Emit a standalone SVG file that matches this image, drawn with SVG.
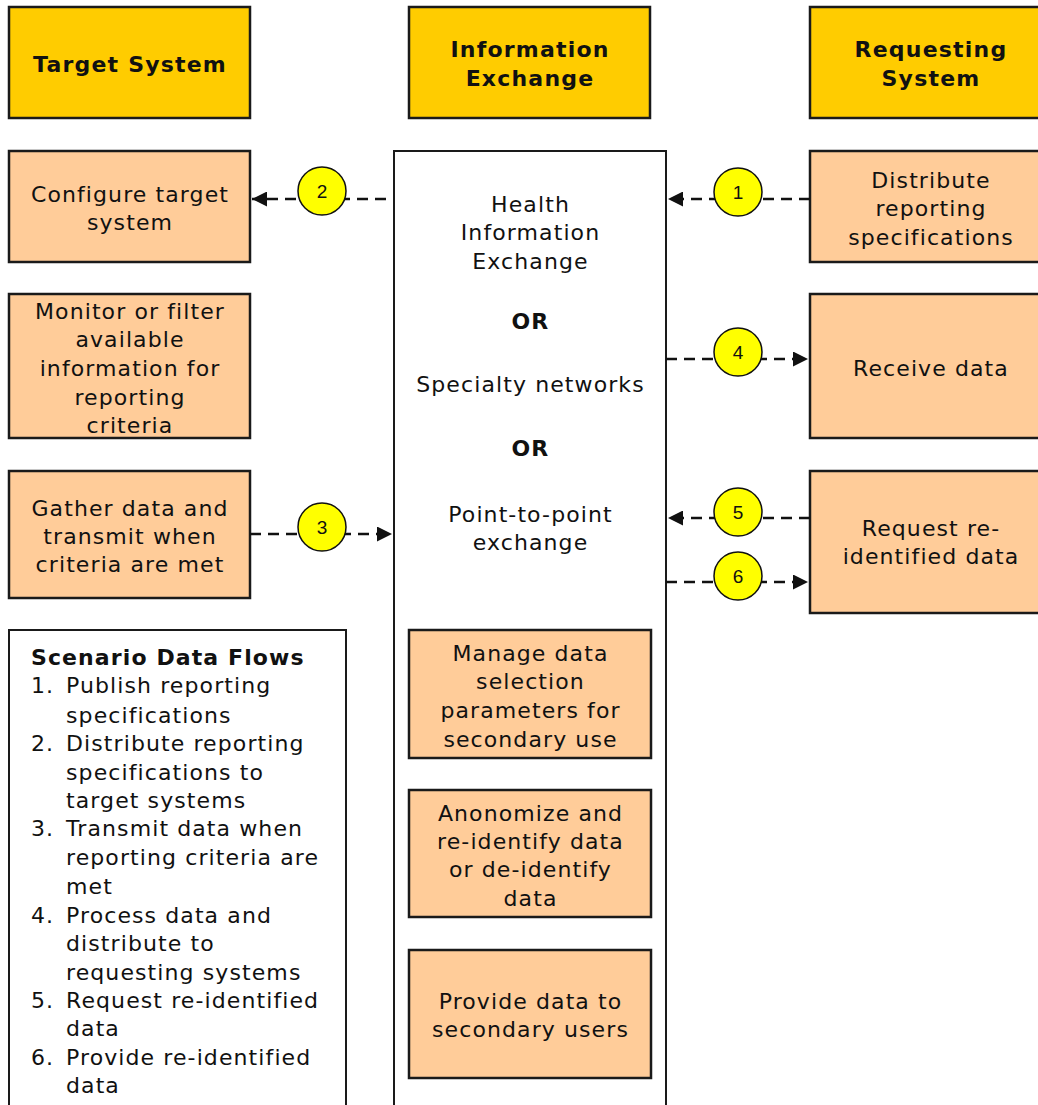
<svg xmlns="http://www.w3.org/2000/svg" width="1038" height="1105" viewBox="0 0 1038 1105">
  <style>
    .hdr { fill: #FFCC00; stroke: #1a1a1a; stroke-width: 2.5; }
    .act { fill: #FFCC99; stroke: #1a1a1a; stroke-width: 2.5; }
    .frame { fill: #FFFFFF; stroke: #1a1a1a; stroke-width: 2; }
    .t { font-family: "DejaVu Sans", Verdana, sans-serif; font-size: 22px; letter-spacing: 1.1px; fill: #111; text-anchor: middle; }
    .tb { font-family: "DejaVu Sans", Verdana, sans-serif; font-size: 22px; letter-spacing: 1.2px; font-weight: bold; fill: #111; text-anchor: middle; }
    .lg { font-family: "DejaVu Sans", Verdana, sans-serif; font-size: 22px; letter-spacing: 1.1px; fill: #111; }
    .lgb { font-family: "DejaVu Sans", Verdana, sans-serif; font-size: 22px; letter-spacing: 1.1px; font-weight: bold; fill: #111; }
    .flow { fill: none; stroke: #111; stroke-width: 2.5; stroke-dasharray: 11 7; }
    .badge { fill: #FFFF00; stroke: #111; stroke-width: 1.5; }
    .num { font-family: "Liberation Sans", Arial, sans-serif; font-size: 19px; fill: #111; text-anchor: middle; }
  </style>
  <defs>
    <marker id="head" viewBox="0 0 10 10" refX="10" refY="5" markerWidth="6" markerHeight="6" markerUnits="strokeWidth" orient="auto">
      <path d="M0,0 L10,5 L0,10 Z" fill="#111"/>
    </marker>
  </defs>

  <!-- column headers -->
  <g id="hdr-target">
    <rect class="hdr" x="9" y="7" width="241" height="111"/>
    <text class="tb" x="130" y="72">Target System</text>
  </g>
  <g id="hdr-exchange">
    <rect class="hdr" x="409" y="7" width="241" height="111"/>
    <text class="tb" x="530" y="57">Information</text>
    <text class="tb" x="530" y="86">Exchange</text>
  </g>
  <g id="hdr-requesting">
    <rect class="hdr" x="810" y="7" width="241" height="111"/>
    <text class="tb" x="931" y="57">Requesting</text>
    <text class="tb" x="931" y="86">System</text>
  </g>

  <!-- exchange column frame -->
  <g id="exchange">
    <rect class="frame" x="394" y="151" width="272" height="980"/>
    <text class="t" x="530.5" y="212">Health</text>
    <text class="t" x="530.5" y="240">Information</text>
    <text class="t" x="530.5" y="269">Exchange</text>
    <text class="tb" x="530.5" y="329">OR</text>
    <text class="t" x="530.5" y="392">Specialty networks</text>
    <text class="tb" x="530.5" y="456">OR</text>
    <text class="t" x="530.5" y="522">Point-to-point</text>
    <text class="t" x="530.5" y="550">exchange</text>
  </g>

  <!-- target system activities -->
  <g id="configure">
    <rect class="act" x="9" y="151" width="241" height="111"/>
    <text class="t" x="130" y="202">Configure target</text>
    <text class="t" x="130" y="230">system</text>
  </g>
  <g id="monitor">
    <rect class="act" x="9" y="294" width="241" height="144"/>
    <text class="t" x="130" y="319">Monitor or filter</text>
    <text class="t" x="130" y="347">available</text>
    <text class="t" x="130" y="376">information for</text>
    <text class="t" x="130" y="405">reporting</text>
    <text class="t" x="130" y="433">criteria</text>
  </g>
  <g id="gather">
    <rect class="act" x="9" y="471" width="241" height="127"/>
    <text class="t" x="130" y="516">Gather data and</text>
    <text class="t" x="130" y="544">transmit when</text>
    <text class="t" x="130" y="572">criteria are met</text>
  </g>

  <!-- requesting system activities -->
  <g id="distribute">
    <rect class="act" x="810" y="151" width="241" height="111"/>
    <text class="t" x="931" y="188">Distribute</text>
    <text class="t" x="931" y="216">reporting</text>
    <text class="t" x="931" y="245">specifications</text>
  </g>
  <g id="receive">
    <rect class="act" x="810" y="294" width="241" height="144"/>
    <text class="t" x="931" y="376">Receive data</text>
  </g>
  <g id="request">
    <rect class="act" x="810" y="471" width="241" height="142"/>
    <text class="t" x="931" y="536">Request re-</text>
    <text class="t" x="931" y="564">identified data</text>
  </g>

  <!-- exchange services -->
  <g id="manage">
    <rect class="act" x="409" y="630" width="242" height="128"/>
    <text class="t" x="530.5" y="661">Manage data</text>
    <text class="t" x="530.5" y="689">selection</text>
    <text class="t" x="530.5" y="718">parameters for</text>
    <text class="t" x="530.5" y="747">secondary use</text>
  </g>
  <g id="anonymize">
    <rect class="act" x="409" y="790" width="242" height="127"/>
    <text class="t" x="530.5" y="821">Anonomize and</text>
    <text class="t" x="530.5" y="849">re-identify data</text>
    <text class="t" x="530.5" y="877">or de-identify</text>
    <text class="t" x="530.5" y="906">data</text>
  </g>
  <g id="provide">
    <rect class="act" x="409" y="950" width="242" height="128"/>
    <text class="t" x="530.5" y="1009">Provide data to</text>
    <text class="t" x="530.5" y="1037">secondary users</text>
  </g>

  <!-- legend -->
  <g id="legend">
    <rect class="frame" x="9" y="630" width="337" height="500"/>
    <text class="lgb" x="31" y="665">Scenario Data Flows</text>
    <text class="lg" x="31" y="693">1.</text><text class="lg" x="66" y="693">Publish reporting</text>
    <text class="lg" x="66" y="723">specifications</text>
    <text class="lg" x="31" y="751">2.</text><text class="lg" x="66" y="751">Distribute reporting</text>
    <text class="lg" x="66" y="780">specifications to</text>
    <text class="lg" x="66" y="808">target systems</text>
    <text class="lg" x="31" y="836">3.</text><text class="lg" x="66" y="836">Transmit data when</text>
    <text class="lg" x="66" y="865">reporting criteria are</text>
    <text class="lg" x="66" y="894">met</text>
    <text class="lg" x="31" y="923">4.</text><text class="lg" x="66" y="923">Process data and</text>
    <text class="lg" x="66" y="951">distribute to</text>
    <text class="lg" x="66" y="980">requesting systems</text>
    <text class="lg" x="31" y="1008">5.</text><text class="lg" x="66" y="1008">Request re-identified</text>
    <text class="lg" x="66" y="1036">data</text>
    <text class="lg" x="31" y="1065">6.</text><text class="lg" x="66" y="1065">Provide re-identified</text>
    <text class="lg" x="66" y="1093">data</text>
  </g>

  <!-- data flow connectors -->
  <g id="connectors">
    <line class="flow" x1="810" y1="199" x2="668" y2="199" marker-end="url(#head)"/>
    <line class="flow" x1="386" y1="199" x2="252" y2="199" marker-end="url(#head)"/>
    <line class="flow" x1="250" y1="534" x2="392" y2="534" marker-end="url(#head)"/>
    <line class="flow" x1="666" y1="359" x2="808" y2="359" marker-end="url(#head)"/>
    <line class="flow" x1="810" y1="518" x2="668" y2="518" marker-end="url(#head)"/>
    <line class="flow" x1="666" y1="582" x2="808" y2="582" marker-end="url(#head)"/>

    <circle class="badge" cx="738" cy="192" r="24"/><text class="num" x="738" y="198.5">1</text>
    <circle class="badge" cx="322" cy="191" r="24"/><text class="num" x="322" y="197.5">2</text>
    <circle class="badge" cx="322" cy="527" r="24"/><text class="num" x="322" y="533.5">3</text>
    <circle class="badge" cx="738" cy="352" r="24"/><text class="num" x="738" y="358.5">4</text>
    <circle class="badge" cx="738" cy="512" r="24"/><text class="num" x="738" y="518.5">5</text>
    <circle class="badge" cx="738" cy="576" r="24"/><text class="num" x="738" y="582.5">6</text>
  </g>
</svg>
